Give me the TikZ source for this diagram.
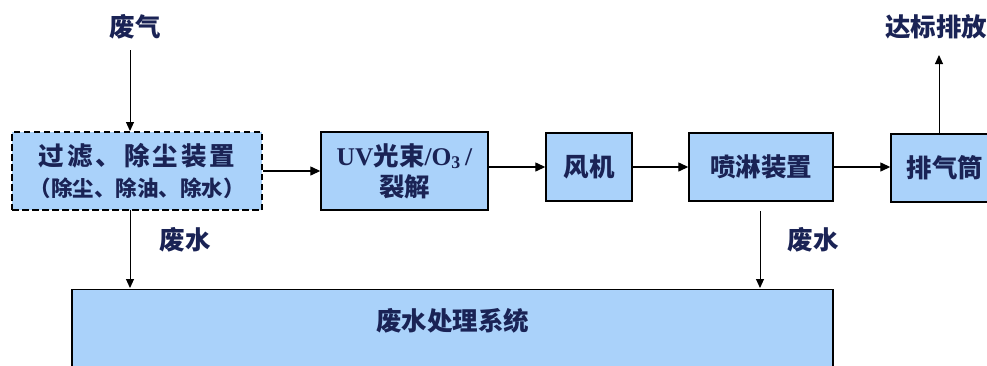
\documentclass[tikz,border=0pt]{standalone}
\usepackage{fontspec}
\setmainfont{Liberation Serif}
\newfontfamily\cjk{Noto Sans CJK SC}
\usetikzlibrary{arrows.meta,calc}
\definecolor{boxfill}{RGB}{170,210,250}
\definecolor{ink}{RGB}{26,35,85}
\tikzset{
  box/.style={draw=black, line width=1.4pt, fill=boxfill, inner sep=0pt, align=center, text=ink, font=\cjk\bfseries\fontsize{25.5}{30}\selectfont},
  dbox/.style={box, line width=2pt, dash pattern=on 6.5pt off 3.5pt},
  lbl/.style={inner sep=0pt, text=ink, font=\cjk\bfseries\fontsize{25.5}{30}\selectfont},
  harr/.style={line width=1.3pt, -{Triangle[length=10pt,width=9pt]}},
  varr/.style={line width=1pt, -{Triangle[length=9pt,width=8pt]}}
}
\begin{document}
\begin{tikzpicture}[x=1pt,y=-1pt]
\useasboundingbox (0,0) rectangle (987,365);
\node[dbox, minimum width=250, minimum height=78] (b1) at (137,171)
  {\fontsize{25.5}{29}\selectfont 过\kern3pt 滤\kern3pt 、\kern3pt 除\kern3pt 尘\kern3pt 装\kern3pt 置\\[1pt] {\fontsize{21.5}{25}\selectfont （除尘、除油、除水）}};
\node[box, minimum width=167, minimum height=78] (b2) at (404.5,171)
  {{\rmfamily\bfseries UV}光束{\rmfamily\bfseries /O\textsubscript{3}\,/}\\[1pt]裂解};
\node[box, minimum width=86, minimum height=68] (b3) at (589,167) {风机};
\node[box, minimum width=144, minimum height=68] (b4) at (761,167) {喷淋装置};
\node[box, minimum width=108, minimum height=68] (b5) at (945,168) {排气筒};
\node[box, minimum width=761, minimum height=110, anchor=north] (b6) at (452.5,289) {};
\node[lbl] (b6t) at (452.5,321) {废水处理系统};
\node[lbl] (fq) at (135,27) {废气};
\node[lbl] (db) at (936,27) {达标排放};
\node[lbl] (fs1) at (185,240) {废水};
\node[lbl] (fs2) at (813,240) {废水};
\coordinate (fqa) at (130,50);
\coordinate (dba) at (939,55);
\coordinate (w1s) at (130,210);
\coordinate (w1e) at (130,288);
\coordinate (w2s) at (760,211);
\coordinate (w2e) at (760,288);
\draw[varr] (fqa) -- (fqa |- b1.north);
\draw[varr] (w1s) -- (w1e);
\draw[varr] (w2s) -- (w2e);
\draw[varr] (dba |- b5.north) -- (dba);
\draw[harr] (b1.east) -- (b2.west);
\draw[harr] (b3.west -| b2.east) -- (b3.west);
\draw[harr] (b3.east) -- (b4.west);
\draw[harr] (b4.east) -- (b4.east -| b5.west);
\end{tikzpicture}
\end{document}
